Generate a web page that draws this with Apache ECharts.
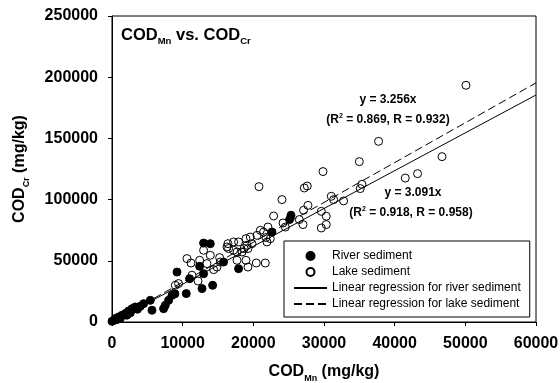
<!DOCTYPE html>
<html>
<head>
<meta charset="utf-8">
<script src="https://cdn.jsdelivr.net/npm/echarts@6/dist/echarts.min.js"></script>
<style>
  html, body { margin: 0; padding: 0; background: #fff; }
  #chart { width: 560px; height: 383px; }
</style>
</head>
<body>
<div id="chart"></div>
<script>
// COD_Mn (x) vs COD_Cr (y), mg/kg
const riverSediment = [
  [0, 600], [300, 1400], [470, 2800], [700, 2000], [930, 4100], [1200, 3200],
  [1420, 5500], [1880, 6900], [2100, 5600], [2350, 9000], [2600, 7500], [2830, 10900],
  [3300, 12300], [3600, 10500], [4000, 12800], [4470, 15000], [5420, 17700], [5660, 9600],
  [7300, 10900], [7540, 13600], [8010, 17700], [8490, 21800], [8900, 23000], [9200, 40800],
  [10510, 23200], [10980, 35400], [12400, 45500], [12740, 27300], [12960, 64500], [12960, 39500],
  [13910, 64000], [14240, 30000], [15790, 49000], [17910, 43600], [22640, 73500], [25130, 83700],
  [25330, 87200]
];
const lakeSediment = [
  [8960, 30000], [9420, 31400], [10610, 51800], [11180, 48200], [11320, 38200], [12170, 33500],
  [12400, 50400], [12960, 58600], [13440, 47700], [13910, 54500], [14380, 42800], [14860, 44900],
  [15230, 52600], [15320, 49000], [16270, 61300], [16410, 64000], [16500, 60000], [17210, 58600],
  [17210, 65400], [17690, 57200], [17690, 50400], [17910, 65400], [18400, 57200], [18700, 60000],
  [18960, 68100], [18960, 50400], [19100, 62700], [19240, 60000], [19240, 44900], [19570, 69400],
  [19810, 64000], [20420, 48200], [20520, 70800], [20800, 110600], [20990, 74900], [21450, 73500],
  [21690, 48200], [21790, 69000], [21930, 65400], [22070, 77600], [22400, 68100], [22870, 86600],
  [24050, 100000], [24200, 80900], [24520, 77600], [26500, 83700], [27030, 79600], [27110, 91300],
  [27210, 109500], [27630, 111100], [27730, 95300], [29620, 90400], [29620, 76800], [29860, 122900],
  [30320, 86400], [30320, 79600], [31030, 102700], [31360, 100000], [32770, 98900], [35000, 131000],
  [35130, 109000], [35370, 112500], [37720, 147600], [41500, 117600], [43240, 121200], [46700, 135100],
  [50090, 193400]
];
// regression slopes (through origin) and x range of the fitted lines
const riverSlope = 3.091;
const lakeSlope = 3.256;
const fitRange = [0, 60000];

const seriesNames = ['River sediment', 'Lake sediment',
  'Linear regression for river sediment', 'Linear regression for lake sediment'];

const FONT = '"Liberation Sans", Arial, Helvetica, sans-serif';

const chart = echarts.init(document.getElementById('chart'));

const subRich = {
  m: { fontFamily: FONT, fontSize: 16, fontWeight: 'bold', color: '#000', lineHeight: 22 },
  s: { fontFamily: FONT, fontSize: 9, fontWeight: 'bold', color: '#000', lineHeight: 10, verticalAlign: 'bottom' }
};
const titleRich = {
  m: { fontFamily: FONT, fontSize: 16.5, fontWeight: 'bold', color: '#000', lineHeight: 22 },
  s: { fontFamily: FONT, fontSize: 9.5, fontWeight: 'bold', color: '#000', lineHeight: 10, verticalAlign: 'bottom' }
};
const supRich = {
  a: { fontFamily: FONT, fontSize: 12, fontWeight: 'bold', color: '#000', lineHeight: 14 },
  p: { fontFamily: FONT, fontSize: 7, fontWeight: 'bold', color: '#000', lineHeight: 6, verticalAlign: 'top' }
};

function note(x, y, text) {
  return {
    type: 'text', x: x, y: y, z: 100,
    style: { text: text, rich: supRich, align: 'center', verticalAlign: 'middle' }
  };
}

const plainNum = v => String(v);

const option = {
  animation: false,
  backgroundColor: '#fff',
  title: {
    text: '{m|COD}{s|Mn}{m| vs. COD}{s|Cr}',
    left: 121, top: 24, padding: 0,
    textStyle: { rich: titleRich }
  },
  grid: {
    left: 112, right: 24, top: 16, bottom: 61,
    containLabel: false, outerBoundsMode: 'none',
    show: true, borderColor: '#000', borderWidth: 1
  },
  legend: {
    orient: 'vertical',
    left: 284, top: 241,
    padding: [8, 9, 6, 9],
    itemWidth: 33, itemHeight: 8, itemGap: 2,
    borderColor: '#000', borderWidth: 1,
    backgroundColor: '#fff',
    textStyle: { fontFamily: FONT, fontSize: 12, color: '#000', lineHeight: 14 },
    data: seriesNames
  },
  xAxis: {
    type: 'value', min: 0, max: 60000, interval: 10000,
    name: '{m|COD}{s|Mn}{m| (mg/kg)}',
    nameLocation: 'middle', nameGap: 39,
    nameTextStyle: { rich: subRich },
    axisLine: { lineStyle: { color: '#000', width: 1 } },
    axisTick: { inside: false, length: 4, lineStyle: { color: '#000' } },
    axisLabel: { fontFamily: FONT, fontSize: 16, fontWeight: 'bold', color: '#000', margin: 14, formatter: plainNum },
    splitLine: { show: false }
  },
  yAxis: {
    type: 'value', min: 0, max: 250000, interval: 50000,
    name: '{m|COD}{s|Cr}{m| (mg/kg)}',
    nameLocation: 'middle', nameGap: 81,
    nameTextStyle: { rich: subRich },
    axisLine: { lineStyle: { color: '#000', width: 1 } },
    axisTick: { inside: false, length: 4, lineStyle: { color: '#000' } },
    axisLabel: { fontFamily: FONT, fontSize: 16, fontWeight: 'bold', color: '#000', margin: 14, formatter: plainNum },
    splitLine: { show: false }
  },
  series: [
    {
      name: seriesNames[0], type: 'scatter', data: riverSediment,
      symbol: 'circle', symbolSize: 8, z: 4,
      itemStyle: { color: '#000', borderColor: '#000', borderWidth: 1, opacity: 1 },
      emphasis: { disabled: true }
    },
    {
      name: seriesNames[1], type: 'scatter', data: lakeSediment,
      symbol: 'circle', symbolSize: 8, z: 3,
      itemStyle: { color: 'rgba(255,255,255,0)', borderColor: '#000', borderWidth: 1, opacity: 1 },
      emphasis: { disabled: true }
    },
    {
      name: seriesNames[2], type: 'line', symbol: 'none', z: 2,
      data: fitRange.map(x => [x, riverSlope * x]),
      lineStyle: { color: '#000', width: 1, type: 'solid' },
      itemStyle: { color: 'rgba(0,0,0,0)', borderWidth: 0 }
    },
    {
      name: seriesNames[3], type: 'line', symbol: 'none', z: 2,
      data: fitRange.map(x => [x, lakeSlope * x]),
      lineStyle: { color: '#000', width: 1, type: [8, 4] },
      itemStyle: { color: 'rgba(0,0,0,0)', borderWidth: 0 }
    }
  ],
  graphic: [
    note(388, 100, '{a|y = ' + lakeSlope.toFixed(3) + 'x}'),
    note(388, 120, '{a|(R}{p|2}{a| = 0.869, R = 0.932)}'),
    note(413, 193, '{a|y = ' + riverSlope.toFixed(3) + 'x}'),
    note(411, 213, '{a|(R}{p|2}{a| = 0.918, R = 0.958)}')
  ]
};

chart.setOption(option);
</script>
</body>
</html>
